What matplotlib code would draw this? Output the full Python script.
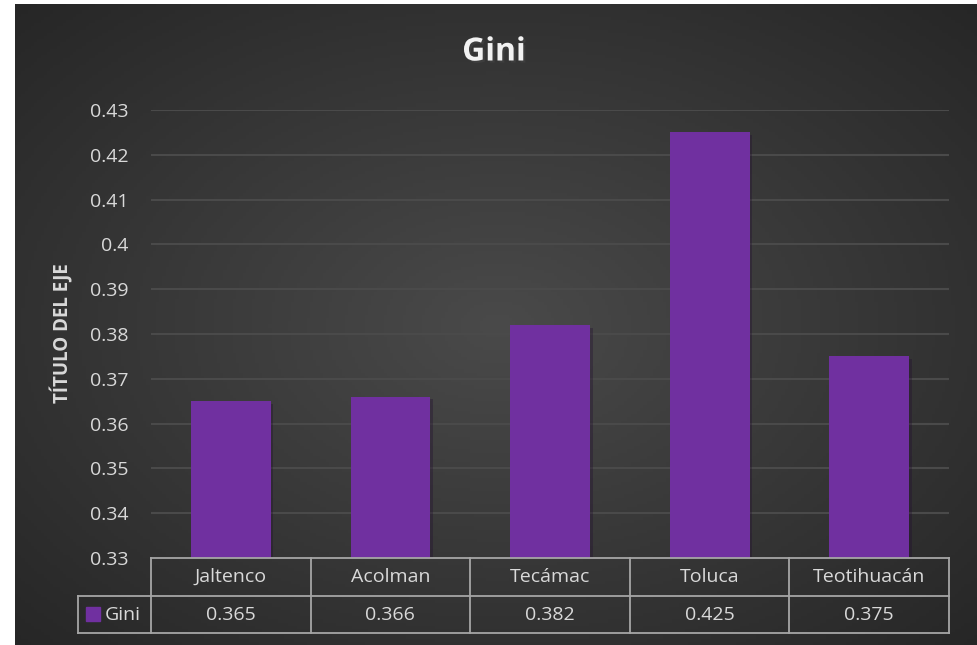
import matplotlib
matplotlib.use("Agg")
import matplotlib.pyplot as plt
import matplotlib.patheffects as pe
import numpy as np

plt.rcParams["font.family"] = ["Open Sans", "DejaVu Sans"]

CATEGORIES = ["Jaltenco", "Acolman", "Tecámac", "Toluca", "Teotihuacán"]
GINI = [0.365, 0.366, 0.382, 0.425, 0.375]
SERIES = "Gini"
TITLE = "Gini"
YLABEL = "TÍTULO DEL EJE"
YTICKS = [0.33, 0.34, 0.35, 0.36, 0.37, 0.38, 0.39, 0.40, 0.41, 0.42, 0.43]

BAR_COL = "#7030A0"
TXT_COL = "#d9d9d9"
GRID_COL = "#4a4a4a"
TABLE_COL = "#a6a6a6"

W, H = 977, 645


def fx(px):
    return px / W


def fy(py):
    return 1 - py / H


fig = plt.figure(figsize=(W / 100, H / 100), dpi=100)
fig.patch.set_facecolor("white")

# dark radial-gradient background panel
bg = fig.add_axes([fx(15), 0, 1 - fx(15), fy(4)])
yy, xx = np.mgrid[0:200, 0:300]
r = np.hypot((xx - 150) / 150, (yy - 100) / 100) / np.sqrt(2)
shade = 0.29 - 0.14 * r
bg.imshow(np.dstack([shade] * 3), aspect="auto", extent=[0, 1, 0, 1])
bg.set_axis_off()

# plot area
left, right, top, bot = 151, 949, 110, 558
ax = fig.add_axes([fx(left), fy(bot), fx(right) - fx(left), fy(top) - fy(bot)])
ax.patch.set_alpha(0)
x = np.arange(len(CATEGORIES))
ax.bar(x, GINI, width=0.5, color=BAR_COL, zorder=3,
       path_effects=[pe.SimplePatchShadow(offset=(2, -2), alpha=0.35), pe.Normal()])
ax.set_xlim(-0.5, len(CATEGORIES) - 0.5)
ax.set_ylim(YTICKS[0], YTICKS[-1])
ax.set_yticks(YTICKS)
ax.set_yticklabels([f"{t:g}" for t in YTICKS], color=TXT_COL, fontsize=14)
ax.tick_params(axis="y", length=0, pad=16)
ax.set_xticks([])
for t in YTICKS[1:]:
    ax.axhline(t, color=GRID_COL, lw=1.5, zorder=1)
for s in ax.spines.values():
    s.set_visible(False)
ax.set_ylabel(YLABEL, color=TXT_COL, fontsize=13.5, fontweight="bold")
ax.yaxis.set_label_coords((73 - left) / (right - left), (bot - 333) / (bot - top))

fig.text(fx(494), fy(52), TITLE, ha="center", va="center", color="#f2f2f2",
         fontsize=23, fontweight="bold",
         path_effects=[pe.withSimplePatchShadow(offset=(1.5, -1.5), alpha=0.5)])

# data table under the axis
r0, r1, r2 = 558, 596, 633
colw = (right - left) / len(CATEGORIES)
lk = dict(color=TABLE_COL, lw=1.3, transform=fig.transFigure)
fig.add_artist(plt.Line2D([fx(left), fx(right)], [fy(r0)] * 2, **lk))
fig.add_artist(plt.Line2D([fx(78), fx(right)], [fy(r1)] * 2, **lk))
fig.add_artist(plt.Line2D([fx(78), fx(right)], [fy(r2)] * 2, **lk))
fig.add_artist(plt.Line2D([fx(78)] * 2, [fy(r1), fy(r2)], **lk))
for k in range(len(CATEGORIES) + 1):
    xk = left + k * colw
    fig.add_artist(plt.Line2D([fx(xk)] * 2, [fy(r0), fy(r2)], **lk))
for k, (cat, val) in enumerate(zip(CATEGORIES, GINI)):
    xc = left + (k + 0.5) * colw
    fig.text(fx(xc), fy((r0 + r1) / 2), cat, ha="center", va="center",
             color=TXT_COL, fontsize=14)
    fig.text(fx(xc), fy((r1 + r2) / 2), f"{val:.3f}", ha="center", va="center",
             color=TXT_COL, fontsize=14)
fig.add_artist(plt.Rectangle((fx(86), fy(621)), fx(14), 14 / H,
                             color=BAR_COL, transform=fig.transFigure))
fig.text(fx(105), fy((r1 + r2) / 2), SERIES, ha="left", va="center",
         color=TXT_COL, fontsize=14)

fig.savefig("out.png", dpi=100)
